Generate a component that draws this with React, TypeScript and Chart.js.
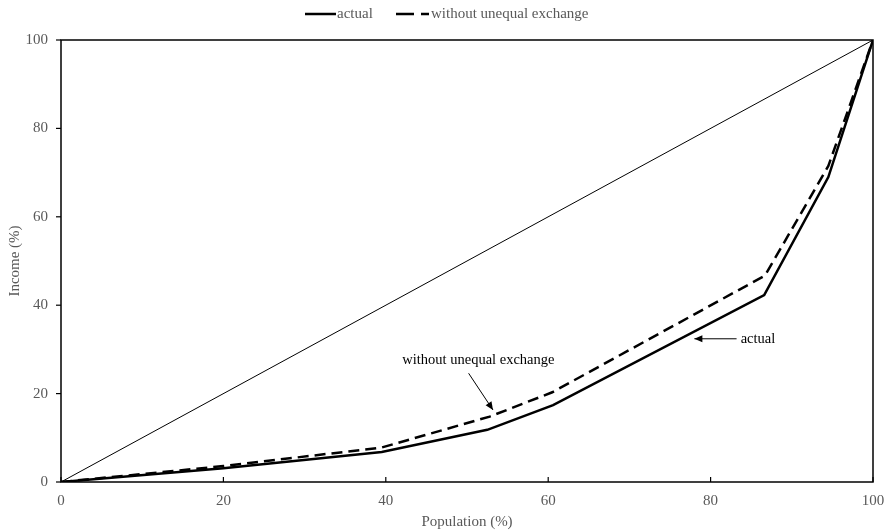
import React, { useEffect, useRef } from "react";
import { Chart, registerables } from "chart.js";

Chart.register(...registerables);

const populationActual = [0, 20, 39.5, 52.5, 60.6, 86.6, 94.5, 100];
const incomeActual = [0, 3.1, 6.8, 11.8, 17.4, 42.3, 69, 100];
const populationWithout = [0, 20, 39.5, 52.8, 60.5, 86.7, 94.5, 100];
const incomeWithout = [0, 3.6, 7.8, 14.8, 20.3, 46.7, 71.5, 100];
const equalityLine = [0, 100];
const tickValues = [0, 20, 40, 60, 80, 100];
const seriesNames = ["actual", "without unequal exchange"];
const xTitle = "Population (%)";
const yTitle = "Income (%)";

const FONT = "'Liberation Serif', 'Times New Roman', serif";
const GRAY = "#595959";

const framePlugin = {
  id: "frame",
  afterDraw(chart: any) {
    const { ctx, chartArea, scales } = chart;
    const xs = scales.x;
    const ys = scales.y;
    ctx.save();
    ctx.strokeStyle = "#000";
    ctx.lineWidth = 1.5;
    ctx.strokeRect(chartArea.left, chartArea.top, chartArea.right - chartArea.left, chartArea.bottom - chartArea.top);
    ctx.lineWidth = 1.2;
    tickValues.forEach((v) => {
      const y = ys.getPixelForValue(v);
      ctx.beginPath();
      ctx.moveTo(chartArea.left - 5, y);
      ctx.lineTo(chartArea.left, y);
      ctx.stroke();
    });
    tickValues.forEach((v) => {
      const x = xs.getPixelForValue(v);
      ctx.beginPath();
      ctx.moveTo(x, chartArea.bottom);
      ctx.lineTo(x, chartArea.bottom - 5);
      ctx.stroke();
    });
    const arrow = (x1: number, y1: number, x2: number, y2: number) => {
      ctx.strokeStyle = "#000";
      ctx.fillStyle = "#000";
      ctx.lineWidth = 1;
      ctx.beginPath();
      ctx.moveTo(x1, y1);
      ctx.lineTo(x2, y2);
      ctx.stroke();
      const ang = Math.atan2(y2 - y1, x2 - x1);
      const L = 8, W = 3.5;
      ctx.beginPath();
      ctx.moveTo(x2, y2);
      ctx.lineTo(x2 - L * Math.cos(ang) + W * Math.sin(ang), y2 - L * Math.sin(ang) - W * Math.cos(ang));
      ctx.lineTo(x2 - L * Math.cos(ang) - W * Math.sin(ang), y2 - L * Math.sin(ang) + W * Math.cos(ang));
      ctx.closePath();
      ctx.fill();
    };
    ctx.font = `14.5px ${FONT}`;
    ctx.fillStyle = "#000";
    ctx.textBaseline = "middle";
    ctx.textAlign = "center";
    ctx.fillText(seriesNames[1], xs.getPixelForValue(51.4), ys.getPixelForValue(27.6));
    arrow(xs.getPixelForValue(50.2), ys.getPixelForValue(24.6), xs.getPixelForValue(53.2), ys.getPixelForValue(16.3));
    ctx.fillStyle = "#000";
    ctx.textAlign = "left";
    ctx.fillText(seriesNames[0], xs.getPixelForValue(83.7), ys.getPixelForValue(32.4));
    arrow(xs.getPixelForValue(83.2), ys.getPixelForValue(32.4), xs.getPixelForValue(78.0), ys.getPixelForValue(32.4));

    ctx.font = `15px ${FONT}`;
    ctx.fillStyle = GRAY;
    ctx.textAlign = "left";
    const ly = 14;
    ctx.strokeStyle = "#000";
    ctx.lineWidth = 2.5;
    ctx.setLineDash([]);
    ctx.beginPath();
    ctx.moveTo(305, ly);
    ctx.lineTo(336, ly);
    ctx.stroke();
    ctx.fillText(seriesNames[0], 337, ly);
    ctx.beginPath();
    ctx.moveTo(396, ly);
    ctx.lineTo(414, ly);
    ctx.moveTo(421, ly);
    ctx.lineTo(429, ly);
    ctx.stroke();
    ctx.fillText(seriesNames[1], 431, ly);
    ctx.restore();
  },
};

export default function App() {
  const ref = useRef<HTMLCanvasElement>(null);
  useEffect(() => {
    if (!ref.current) return;
    const chart = new Chart(ref.current, {
      type: "scatter",
      data: {
        datasets: [
          {
            label: "equality",
            data: equalityLine.map((v) => ({ x: v, y: v })),
            showLine: true,
            borderColor: "#000",
            borderWidth: 1,
            pointRadius: 0,
          },
          {
            label: seriesNames[0],
            data: populationActual.map((x, i) => ({ x, y: incomeActual[i] })),
            showLine: true,
            borderColor: "#000",
            borderWidth: 2.5,
            pointRadius: 0,
          },
          {
            label: seriesNames[1],
            data: populationWithout.map((x, i) => ({ x, y: incomeWithout[i] })),
            showLine: true,
            borderColor: "#000",
            borderWidth: 2.5,
            borderDash: [11, 6],
            pointRadius: 0,
          },
        ],
      },
      options: {
        animation: false,
        responsive: false,
        maintainAspectRatio: false,
        layout: { padding: { left: 0, right: 14, top: 40, bottom: 0 } },
        plugins: { legend: { display: false }, tooltip: { enabled: false } },
        scales: {
          x: {
            type: "linear",
            min: 0,
            max: 100,
            afterBuildTicks: (s: any) => { s.ticks = tickValues.map((v) => ({ value: v })); },
            afterFit: (s: any) => { s.height = 49; s.paddingLeft = 0; s.paddingRight = 0; },
            grid: { display: false, drawTicks: false },
            border: { display: false },
            ticks: { color: GRAY, font: { family: FONT, size: 15 }, padding: 10, maxRotation: 0 },
            title: { display: true, text: xTitle, color: GRAY, font: { family: FONT, size: 15 }, padding: { top: 2, bottom: 0 } },
          },
          y: {
            type: "linear",
            min: 0,
            max: 100,
            afterBuildTicks: (s: any) => { s.ticks = tickValues.map((v) => ({ value: v })); },
            afterFit: (s: any) => { s.width = 61; s.paddingTop = 0; s.paddingBottom = 0; },
            grid: { display: false, drawTicks: false },
            border: { display: false },
            ticks: { color: GRAY, font: { family: FONT, size: 15 }, padding: 13 },
            title: { display: true, text: yTitle, color: GRAY, font: { family: FONT, size: 15 }, padding: { top: 6, bottom: 0 } },
          },
        },
      },
      plugins: [framePlugin],
    });
    return () => chart.destroy();
  }, []);
  return (
    <div style={{ position: "fixed", left: 0, top: 0, width: 887, height: 531 }}>
      <canvas ref={ref} width={887} height={531} />
    </div>
  );
}
